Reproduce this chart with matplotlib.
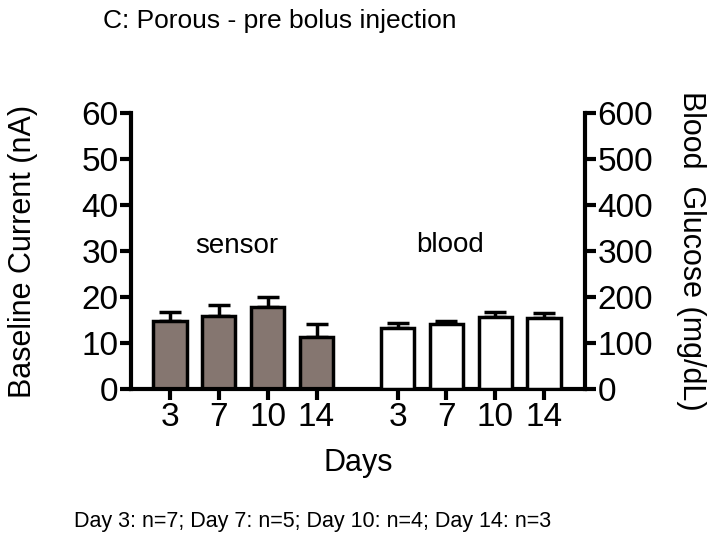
import matplotlib
matplotlib.use("Agg")
import matplotlib.pyplot as plt
import numpy as np

plt.rcParams['font.family'] = ['Liberation Sans', 'DejaVu Sans']

days = ["3", "7", "10", "14"]
sensor_mean = [14.8, 15.9, 17.9, 11.4]      # nA
sensor_err = [2.0, 2.4, 2.2, 2.7]
blood_mean = [133, 141, 157, 155]           # mg/dL
blood_err = [11, 6, 10, 10]

fig = plt.figure(figsize=(7.14, 5.39), dpi=100)
ax = fig.add_axes([131/714, 150/539, (585-131)/714, (389-113)/539])

lw = 3.0
pos_s = np.array([1, 2, 3, 4])
pos_b = np.array([5.66, 6.66, 7.66, 8.66])
w = 0.68

ax.bar(pos_s, sensor_mean, width=w, color='#857670', edgecolor='black', linewidth=2.5, zorder=2)
ax.errorbar(pos_s, sensor_mean, yerr=[np.zeros(4), sensor_err], fmt='none', ecolor='black',
            elinewidth=2.5, capsize=8, capthick=2.5, zorder=1)

ax.set_xlim(0.2, 9.5)
ax.set_ylim(0, 60)

ax2 = ax.twinx()
ax2.set_ylim(0, 600)
ax2.bar(pos_b, blood_mean, width=w, color='white', edgecolor='black', linewidth=2.5, zorder=2)
ax2.errorbar(pos_b, blood_mean, yerr=[np.zeros(4), blood_err], fmt='none', ecolor='black',
             elinewidth=2.5, capsize=8, capthick=2.5, zorder=1)

for a in (ax, ax2):
    a.spines['top'].set_visible(False)
    for s in ['left', 'right', 'bottom']:
        a.spines[s].set_linewidth(lw)
ax.spines['right'].set_visible(False)
ax2.spines['left'].set_visible(False)
ax2.spines['bottom'].set_visible(False)

ax.set_yticks(np.arange(0, 61, 10))
ax2.set_yticks(np.arange(0, 601, 100))
ax.set_xticks(np.concatenate([pos_s, pos_b]))
ax.set_xticklabels(days + days)
ax.tick_params(axis='both', length=8, width=lw, labelsize=24, pad=1)
ax2.tick_params(axis='y', length=8, width=lw, labelsize=24, pad=1)

ax.set_ylabel('Baseline Current (nA)', fontsize=22, labelpad=31)
ax2.set_ylabel('Blood  Glucose (mg/dL)', fontsize=22, rotation=-90, labelpad=38)
ax.set_xlabel('Days', fontsize=22, labelpad=11)

ax.text(2.37, 31, 'sensor', fontsize=20, ha='center', va='center')
ax.text(6.74, 31.3, 'blood', fontsize=20, ha='center', va='center')

fig.text(103/714, 1 - 28/539, 'C: Porous - pre bolus injection', fontsize=19, ha='left', va='baseline')
fig.text(313/714, 1 - 527/539, 'Day 3: n=7; Day 7: n=5; Day 10: n=4; Day 14: n=3', fontsize=15.5,
         ha='center', va='baseline')

fig.savefig('out.png', dpi=100)
